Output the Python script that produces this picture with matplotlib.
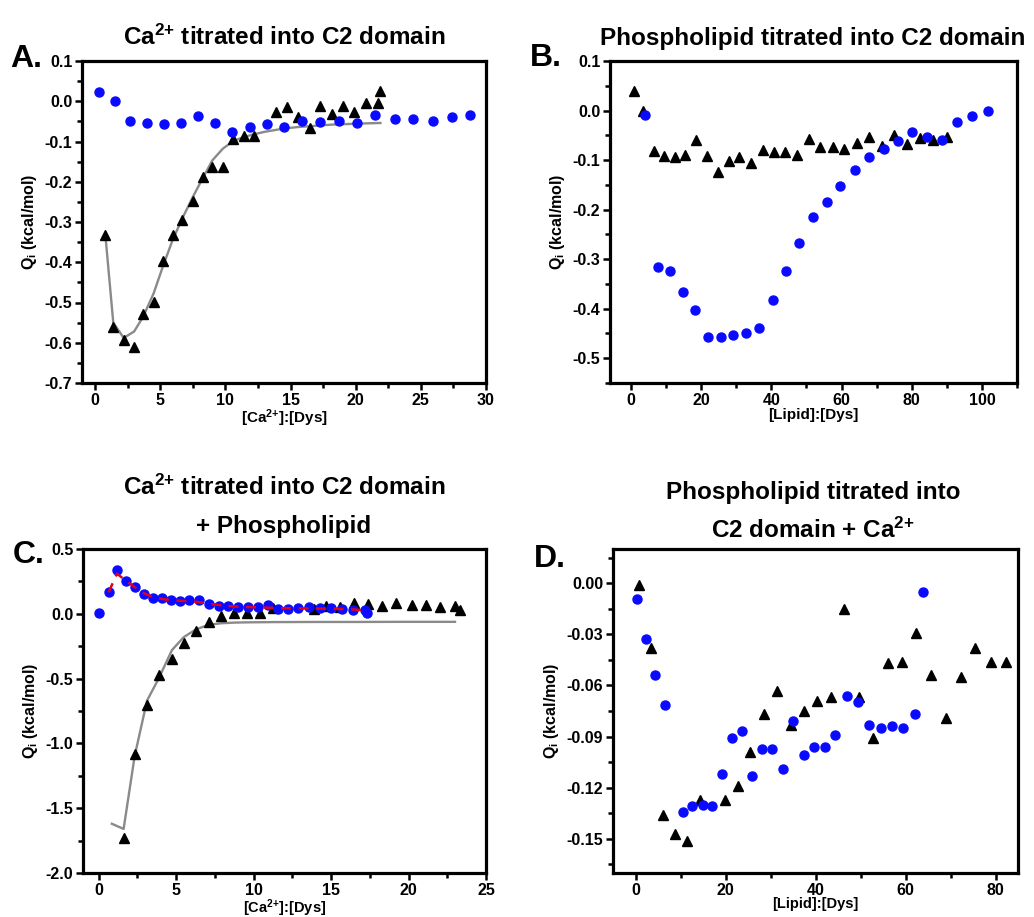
import numpy as np
import matplotlib
matplotlib.use("Agg")
import matplotlib.pyplot as plt
from matplotlib.ticker import MultipleLocator, FormatStrFormatter

plt.rcParams['font.family'] = ['Liberation Sans', 'DejaVu Sans']
plt.rcParams['font.weight'] = 'bold'
plt.rcParams['axes.unicode_minus'] = False
plt.rcParams['mathtext.fontset'] = 'custom'
plt.rcParams['mathtext.rm'] = 'Liberation Sans'
plt.rcParams['mathtext.default'] = 'regular'

# ---- Panel A: Ca2+ titrated into C2 domain
a_blue_x = [0.3, 1.5, 2.7, 4.0, 5.3, 6.6, 7.9, 9.2, 10.5, 11.9, 13.2, 14.5, 15.9, 17.3,
            18.7, 20.1, 21.5, 23.0, 24.4, 25.9, 27.4, 28.8]
a_blue_y = [0.022, 0.0, -0.050, -0.055, -0.056, -0.053, -0.036, -0.054, -0.076, -0.063,
            -0.056, -0.064, -0.048, -0.052, -0.050, -0.054, -0.035, -0.045, -0.045,
            -0.048, -0.040, -0.034]
a_tri_x = [0.8, 1.4, 2.2, 3.0, 3.7, 4.5, 5.2, 5.95, 6.7, 7.5, 8.25, 9.0, 9.8, 10.6, 11.4,
           12.2, 13.9, 14.7, 15.6, 16.5, 17.3, 18.2, 19.0, 19.9, 20.8, 21.7, 21.9]
a_tri_y = [-0.333, -0.560, -0.594, -0.611, -0.529, -0.498, -0.397, -0.333, -0.295, -0.248,
           -0.188, -0.163, -0.163, -0.093, -0.086, -0.086, -0.026, -0.015, -0.038, -0.066,
           -0.011, -0.031, -0.013, -0.026, -0.005, -0.005, 0.026]
a_fit_x = [0.8, 1.4, 2.2, 3.0, 3.7, 4.5, 5.2, 5.95, 6.7, 7.5, 8.25, 9.0, 9.8, 10.6, 11.4,
           12.2, 13.0, 13.9, 14.7, 15.6, 16.5, 17.3, 18.2, 19.0, 19.9, 20.8, 21.9]
a_fit_y = [-0.335, -0.55, -0.588, -0.572, -0.535, -0.477, -0.411, -0.345, -0.291, -0.238,
           -0.192, -0.147, -0.118, -0.099, -0.089, -0.082, -0.076, -0.071, -0.067, -0.064,
           -0.062, -0.060, -0.058, -0.057, -0.056, -0.055, -0.054]

# ---- Panel B: Phospholipid titrated into C2 domain
b_tri_x = [0.8, 3.4, 6.5, 9.5, 12.4, 15.5, 18.5, 21.7, 24.8, 27.8, 30.9, 34.2, 37.5, 40.6,
           44.0, 47.3, 50.6, 53.9, 57.5, 60.8, 64.4, 67.9, 71.5, 75.0, 78.6, 82.4, 86.2, 90.0]
b_tri_y = [0.040, 0.0, -0.081, -0.091, -0.093, -0.089, -0.059, -0.091, -0.124, -0.102,
           -0.094, -0.106, -0.079, -0.084, -0.083, -0.089, -0.058, -0.073, -0.074, -0.078,
           -0.065, -0.054, -0.071, -0.049, -0.067, -0.055, -0.059, -0.054]
b_blue_x = [4.1, 7.6, 11.0, 14.7, 18.1, 21.8, 25.5, 29.1, 32.8, 36.6, 40.4, 44.2, 48.0, 51.9,
            55.8, 59.6, 63.7, 67.7, 72.0, 76.0, 80.1, 84.3, 88.6, 92.9, 97.2, 101.6]
b_blue_y = [-0.010, -0.316, -0.324, -0.367, -0.402, -0.458, -0.458, -0.454, -0.449, -0.439,
            -0.382, -0.324, -0.268, -0.215, -0.184, -0.153, -0.120, -0.093, -0.077, -0.062,
            -0.044, -0.054, -0.059, -0.024, -0.012, 0.0]

# ---- Panel C: Ca2+ titrated into C2 domain + Phospholipid
c_blue_x = [0.06, 0.65, 1.19, 1.77, 2.35, 2.91, 3.49, 4.09, 4.68, 5.28, 5.86, 6.47, 7.11,
            7.76, 8.36, 9.0, 9.66, 10.3, 10.95, 11.6, 12.2, 12.9, 13.6, 14.3, 15.0, 15.7,
            16.4, 17.2, 17.3]
c_blue_y = [0.005, 0.165, 0.336, 0.25, 0.207, 0.155, 0.119, 0.121, 0.103, 0.101, 0.108,
            0.103, 0.072, 0.062, 0.057, 0.049, 0.052, 0.049, 0.070, 0.039, 0.039, 0.044,
            0.049, 0.044, 0.044, 0.036, 0.026, 0.026, 0.010]
c_red_x = [0.65, 1.19, 1.77, 2.35, 2.91, 3.49, 4.09, 4.68, 5.28, 5.86, 6.47, 7.11, 7.76,
           8.36, 9.0, 9.66, 10.3, 10.95, 11.6, 12.2, 12.9, 13.6, 14.3, 15.0, 15.7, 16.4, 17.3]
c_red_y = [0.165, 0.31, 0.255, 0.205, 0.16, 0.13, 0.115, 0.105, 0.10, 0.097, 0.09, 0.078,
           0.068, 0.06, 0.055, 0.052, 0.05, 0.047, 0.045, 0.043, 0.042, 0.041, 0.040,
           0.039, 0.037, 0.034, 0.025]
c_tri_x = [1.62, 2.33, 3.13, 3.88, 4.74, 5.5, 6.29, 7.11, 7.91, 8.73, 9.59, 10.4, 11.27,
           13.9, 14.7, 15.6, 16.5, 17.4, 18.3, 19.2, 20.2, 21.1, 22.0, 23.0, 23.3]
c_tri_y = [-1.733, -1.080, -0.705, -0.473, -0.349, -0.227, -0.129, -0.062, -0.015, 0.005,
           0.010, 0.005, 0.041, 0.036, 0.062, 0.049, 0.083, 0.075, 0.057, 0.083, 0.070,
           0.070, 0.052, 0.062, 0.026]
c_fit_x = [0.86, 1.62, 2.33, 3.13, 3.88, 4.74, 5.5, 6.29, 7.11, 7.91, 8.73, 9.59, 10.4,
           11.27, 13.9, 16.5, 19.2, 23.0]
c_fit_y = [-1.62, -1.66, -1.10, -0.67, -0.50, -0.28, -0.18, -0.12, -0.085, -0.073, -0.068,
           -0.066, -0.065, -0.064, -0.063, -0.063, -0.062, -0.062]

# ---- Panel D: Phospholipid titrated into C2 domain + Ca2+
d_tri_x = [0.7, 3.4, 6.1, 8.7, 11.5, 14.3, 19.9, 22.7, 25.5, 28.5, 31.5, 34.5, 37.4, 40.3,
           43.4, 46.4, 49.6, 52.8, 56.0, 59.2, 62.4, 65.7, 69.0, 72.3, 75.5, 79.1, 82.4]
d_tri_y = [-0.001, -0.038, -0.136, -0.147, -0.151, -0.127, -0.127, -0.119, -0.099, -0.077,
           -0.063, -0.083, -0.075, -0.069, -0.067, -0.015, -0.067, -0.091, -0.047, -0.046,
           -0.029, -0.054, -0.079, -0.055, -0.038, -0.046, -0.046]
d_blue_x = [0.4, 2.4, 4.3, 6.5, 10.6, 12.6, 14.9, 17.0, 19.2, 21.4, 23.6, 25.8, 28.1, 30.4,
            32.7, 35.0, 37.4, 39.7, 42.0, 44.4, 47.0, 49.5, 51.9, 54.5, 56.9, 59.5, 62.1, 63.8]
d_blue_y = [-0.0092, -0.033, -0.054, -0.0716, -0.134, -0.131, -0.130, -0.131, -0.112,
            -0.091, -0.087, -0.113, -0.097, -0.097, -0.109, -0.081, -0.101, -0.096, -0.096,
            -0.089, -0.066, -0.070, -0.083, -0.085, -0.084, -0.085, -0.077, -0.005]

BLUE = '#0a0aff'
GRAY = '#8a8a8a'
YLABEL = r'Q$_i$ (kcal/mol)'
CA = r'Ca$^{2{+}}$'

fig = plt.figure(figsize=(10.34, 9.17), dpi=100)
W, H = 1034.0, 917.0


def make_ax(left, top, right, bottom):
    return fig.add_axes([left / W, 1 - bottom / H, (right - left) / W, (bottom - top) / H])


def style(ax, xlim, ylim, xmaj, xmin, ymaj, ymin, yfmt, xlabel, xpad=0, xsize=11):
    ax.set_xlim(*xlim)
    ax.set_ylim(*ylim)
    ax.xaxis.set_major_locator(MultipleLocator(xmaj))
    ax.xaxis.set_minor_locator(MultipleLocator(xmin))
    ax.yaxis.set_major_locator(MultipleLocator(ymaj))
    ax.yaxis.set_minor_locator(MultipleLocator(ymin))
    ax.yaxis.set_major_formatter(FormatStrFormatter(yfmt))
    for s in ax.spines.values():
        s.set_linewidth(2.3)
    ax.tick_params(which='both', direction='out', top=False, right=False, width=1.8,
                   labelsize=11.5, pad=2)
    ax.tick_params(which='major', length=5)
    ax.tick_params(which='minor', length=3.5)
    for lab in ax.get_xticklabels() + ax.get_yticklabels():
        lab.set_fontweight('bold')
    ax.set_xlabel(xlabel, fontsize=xsize, fontweight='bold', labelpad=xpad)
    ax.set_ylabel(YLABEL, fontsize=11.5, fontweight='bold', labelpad=4)


tri = dict(marker='^', color='black', markersize=6.5, linestyle='none', zorder=3)
dot = dict(marker='o', color=BLUE, markersize=6.5, linestyle='none', zorder=4)

# A
axA = make_ax(82, 61, 486, 383)
axA.plot(a_fit_x, a_fit_y, color=GRAY, lw=1.7, zorder=2)
axA.plot(a_tri_x, a_tri_y, **tri)
axA.plot(a_blue_x, a_blue_y, **dot)
style(axA, (-1, 30), (-0.7, 0.1), 5, 2.5, 0.1, 0.05, '%.1f', '[' + CA + ']:[Dys]')

# B
axB = make_ax(610, 61, 1017, 383)
axB.plot(b_tri_x, b_tri_y, **tri)
axB.plot(b_blue_x, b_blue_y, **dot)
style(axB, (-6, 110), (-0.55, 0.1), 20, 10, 0.1, 0.05, '%.1f', '[Lipid]:[Dys]')

# C
axC = make_ax(83, 549, 486, 873)
axC.plot(c_fit_x, c_fit_y, color=GRAY, lw=1.7, zorder=2)
axC.plot(c_tri_x, c_tri_y, **tri)
axC.plot(c_blue_x, c_blue_y, **dot)
axC.plot(c_red_x, c_red_y, color='#e0001a', lw=1.8, linestyle=(0, (4, 3)), zorder=5)
style(axC, (-1, 25), (-2.0, 0.5), 5, 2.5, 0.5, 0.25, '%.1f', '[' + CA + ']:[Dys]',
      xpad=-0.5, xsize=10.5)

# D
axD = make_ax(613, 549, 1018, 873)
axD.plot(d_tri_x, d_tri_y, **tri)
axD.plot(d_blue_x, d_blue_y, **dot)
style(axD, (-5, 85), (-0.17, 0.02), 20, 10, 0.03, 0.015, '%.2f', '[Lipid]:[Dys]',
      xpad=-0.5, xsize=10.5)

# titles and panel letters
tkw = dict(fontsize=17.5, fontweight='bold', ha='center', va='baseline')
fig.text(284 / W, 1 - 45 / H, CA + ' titrated into C2 domain', **tkw)
fig.text(813 / W, 1 - 45 / H, 'Phospholipid titrated into C2 domain', **tkw)
fig.text(284 / W, 1 - 495 / H, CA + ' titrated into C2 domain', **tkw)
fig.text(284 / W, 1 - 533 / H, '+ Phospholipid', **tkw)
fig.text(813 / W, 1 - 499 / H, 'Phospholipid titrated into', **tkw)
fig.text(813 / W, 1 - 538 / H, 'C2 domain + ' + CA, **tkw)

lkw = dict(fontsize=23, fontweight='bold', ha='left', va='baseline')
fig.text(10 / W, 1 - 67 / H, 'A.', **lkw)
fig.text(530 / W, 1 - 66 / H, 'B.', **lkw)
fig.text(13 / W, 1 - 563 / H, 'C.', **lkw)
fig.text(534 / W, 1 - 567 / H, 'D.', **lkw)

fig.savefig('out.png', dpi=100, facecolor='white')
